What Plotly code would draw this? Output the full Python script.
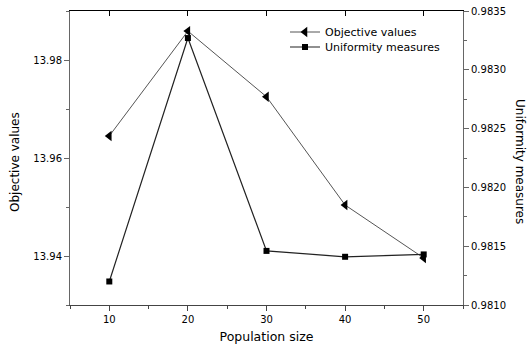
import plotly.graph_objects as go

population = [10, 20, 30, 40, 50]
objective_values = [13.9645, 13.9859, 13.9725, 13.9504, 13.9396]
uniformity_measures = [0.98120, 0.98327, 0.98146, 0.98141, 0.98143]

FONT = "DejaVu Sans"
W, H = 529, 354
L, R, T, B = 70, 66, 11, 49
pw, ph = W - L - R, H - T - B


def px_x(x):
    return (x - L) / pw


def px_y(y):
    return (H - B - y) / ph


fig = go.Figure()
fig.add_trace(go.Scatter(
    x=population, y=objective_values, name="Objective values",
    mode="lines+markers", line=dict(color="#555555", width=1),
    marker=dict(symbol="triangle-left", size=9, color="black"),
    yaxis="y", legend="legend"))
fig.add_trace(go.Scatter(
    x=population, y=uniformity_measures, name="Uniformity measures",
    mode="lines+markers", line=dict(color="#222222", width=1.2),
    marker=dict(symbol="square", size=6, color="black"),
    yaxis="y2", legend="legend2"))
# invisible helper trace so the top (mirror) axis with inside ticks is drawn
fig.add_trace(go.Scatter(x=[population[0]], y=[objective_values[0]], xaxis="x2",
                         mode="markers", marker=dict(opacity=0), showlegend=False,
                         hoverinfo="skip"))

legend_common = dict(xanchor="left", yanchor="middle", bgcolor="rgba(0,0,0,0)",
                     font=dict(size=11), itemwidth=30)

fig.update_layout(
    width=W, height=H,
    margin=dict(l=L, r=R, t=T, b=B, autoexpand=False),
    plot_bgcolor="white", paper_bgcolor="white",
    font=dict(family=FONT, size=10, color="black"),
    showlegend=True,
    legend=dict(x=px_x(285), y=px_y(32), **legend_common),
    legend2=dict(x=px_x(285), y=px_y(47), **legend_common),
    xaxis=dict(range=[5, 55], tickvals=[10, 20, 30, 40, 50],
               ticks="outside", ticklen=5, tickcolor="#444",
               showline=True, linecolor="#444", linewidth=1, mirror=True,
               showgrid=False, zeroline=False,
               minor=dict(ticks="outside", ticklen=3, dtick=5, tick0=5, tickcolor="#444"),
               title=dict(text="Population size", font=dict(size=12.5), standoff=8),
               tickfont=dict(size=10)),
    xaxis2=dict(range=[5, 55], overlaying="x", side="top", anchor="y",
                tickvals=[10, 20, 30, 40, 50], ticks="inside", ticklen=5,
                tickcolor="black", showticklabels=False,
                showline=True, linecolor="black", linewidth=1,
                showgrid=False, zeroline=False),
    yaxis=dict(range=[13.93, 13.99], tickvals=[13.94, 13.96, 13.98],
               tickformat=".2f", ticks="outside", ticklen=5, tickcolor="#666",
               showline=True, linecolor="#666", linewidth=1,
               showgrid=False, zeroline=False,
               minor=dict(ticks="outside", ticklen=3, tickvals=[13.93, 13.95, 13.97, 13.99], tickcolor="#666"),
               tickfont=dict(size=10)),
    yaxis2=dict(range=[0.9810, 0.9835], overlaying="y", side="right",
                tickvals=[0.9810, 0.9815, 0.9820, 0.9825, 0.9830, 0.9835],
                tickformat=".4f", ticks="outside", ticklen=5, tickcolor="#666",
                showline=True, linecolor="#666", linewidth=1,
                showgrid=False, zeroline=False,
                minor=dict(ticks="outside", ticklen=3, dtick=0.00025, tick0=0.981, tickcolor="#666"),
                tickfont=dict(size=10)),
    annotations=[
        dict(text="Objective values", textangle=-90, x=px_x(15), y=px_y(162),
             xanchor="center", yanchor="middle",
             xref="paper", yref="paper", showarrow=False, font=dict(size=12)),
        dict(text="Uniformity measures", textangle=90, x=px_x(520), y=px_y(161),
             xanchor="center", yanchor="middle",
             xref="paper", yref="paper", showarrow=False, font=dict(size=12)),
    ],
)

fig.write_html("out.html", config={"displayModeBar": False})

# remove the default page margin so the figure sits at the window origin
with open("out.html", "r", encoding="utf-8") as f:
    html = f.read()
html = html.replace("<body>", '<body style="margin:0;padding:0;overflow:hidden">', 1)
with open("out.html", "w", encoding="utf-8") as f:
    f.write(html)
